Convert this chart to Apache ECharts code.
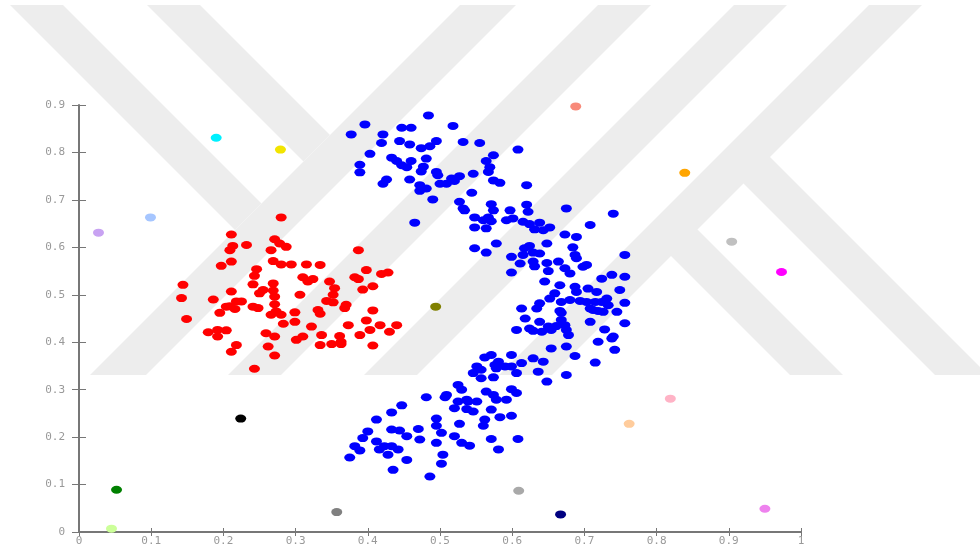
<!DOCTYPE html>
<html>
<head>
<meta charset="utf-8">
<script src="https://cdn.jsdelivr.net/npm/echarts@6/dist/echarts.min.js"></script>
<style>
html,body{margin:0;padding:0;background:#fff;}
#chart{width:980px;height:554px;}
</style>
</head>
<body>
<div id="chart"></div>
<script>
// ---- data ----
const xTicks = [0, 0.1, 0.2, 0.3, 0.4, 0.5, 0.6, 0.7, 0.8, 0.9, 1];
const yTicks = [0, 0.1, 0.2, 0.3, 0.4, 0.5, 0.6, 0.7, 0.8, 0.9];

const redPoints = [
[0.280,0.663],[0.211,0.627],[0.232,0.605],[0.213,0.603],[0.209,0.594],[0.271,0.617],[0.278,0.608],[0.287,0.601],[0.266,0.594],[0.387,0.594],
[0.269,0.571],[0.211,0.570],[0.197,0.561],[0.280,0.564],[0.294,0.564],[0.315,0.564],[0.334,0.563],[0.246,0.554],[0.398,0.552],[0.419,0.544],
[0.428,0.547],[0.243,0.540],[0.310,0.537],[0.324,0.533],[0.317,0.528],[0.382,0.537],[0.387,0.533],[0.269,0.524],[0.241,0.522],[0.347,0.528],
[0.354,0.514],[0.393,0.511],[0.407,0.518],[0.144,0.521],[0.255,0.510],[0.269,0.509],[0.211,0.507],[0.250,0.503],[0.352,0.500],[0.306,0.500],
[0.271,0.496],[0.142,0.493],[0.186,0.490],[0.218,0.486],[0.225,0.486],[0.209,0.476],[0.343,0.487],[0.352,0.484],[0.370,0.479],[0.271,0.480],
[0.241,0.475],[0.248,0.472],[0.204,0.475],[0.216,0.470],[0.368,0.472],[0.195,0.462],[0.273,0.465],[0.299,0.463],[0.331,0.468],[0.334,0.460],
[0.407,0.467],[0.149,0.449],[0.266,0.458],[0.280,0.458],[0.299,0.443],[0.283,0.439],[0.322,0.433],[0.373,0.436],[0.398,0.446],[0.417,0.436],
[0.440,0.436],[0.179,0.421],[0.192,0.426],[0.204,0.425],[0.403,0.426],[0.430,0.422],[0.259,0.419],[0.271,0.412],[0.192,0.412],[0.336,0.415],
[0.389,0.415],[0.361,0.413],[0.310,0.412],[0.301,0.405],[0.363,0.401],[0.218,0.394],[0.262,0.391],[0.334,0.394],[0.350,0.396],[0.363,0.396],
[0.407,0.393],[0.211,0.380],[0.271,0.372],[0.243,0.344]
];

const bluePoints = [
[0.484,0.878],[0.396,0.859],[0.377,0.838],[0.447,0.852],[0.460,0.852],[0.421,0.838],[0.518,0.856],[0.419,0.820],[0.444,0.824],[0.458,0.817],
[0.474,0.809],[0.486,0.813],[0.495,0.824],[0.403,0.797],[0.433,0.789],[0.440,0.782],[0.447,0.773],[0.460,0.782],[0.454,0.769],[0.481,0.787],
[0.477,0.770],[0.389,0.774],[0.389,0.758],[0.426,0.743],[0.421,0.734],[0.458,0.743],[0.474,0.760],[0.495,0.759],[0.497,0.752],[0.472,0.731],
[0.481,0.724],[0.472,0.719],[0.490,0.701],[0.465,0.652],
[0.532,0.822],[0.555,0.820],[0.608,0.806],[0.574,0.794],[0.564,0.782],[0.569,0.769],[0.567,0.759],[0.546,0.755],[0.527,0.750],[0.516,0.745],
[0.500,0.734],[0.509,0.734],[0.520,0.740],[0.574,0.741],[0.583,0.736],[0.544,0.715],[0.620,0.731],[0.527,0.696],[0.532,0.682],[0.534,0.678],
[0.571,0.691],[0.574,0.678],[0.597,0.678],[0.620,0.690],[0.622,0.675],[0.675,0.682],[0.740,0.671],[0.548,0.663],[0.567,0.663],[0.560,0.657],
[0.571,0.655],[0.592,0.657],[0.601,0.661],[0.615,0.654],[0.624,0.649],[0.638,0.652],[0.652,0.642],[0.631,0.638],[0.643,0.636],[0.548,0.642],
[0.564,0.640],[0.708,0.647],[0.673,0.627],[0.689,0.622],[0.578,0.608],[0.548,0.598],[0.648,0.608],[0.624,0.603],[0.617,0.598],[0.684,0.600],
[0.564,0.589],[0.756,0.584],[0.599,0.580],[0.615,0.584],[0.629,0.589],[0.638,0.587],[0.687,0.584],[0.689,0.577],[0.611,0.566],[0.629,0.570],
[0.631,0.560],[0.648,0.567],[0.664,0.570],[0.673,0.556],[0.680,0.545],[0.698,0.559],[0.703,0.563],[0.599,0.547],[0.650,0.550],[0.645,0.528],
[0.666,0.520],[0.687,0.517],[0.689,0.506],[0.705,0.513],[0.717,0.506],[0.724,0.534],[0.738,0.542],[0.756,0.538],[0.749,0.510],[0.659,0.503],
[0.652,0.492],[0.638,0.482],[0.668,0.485],[0.680,0.489],[0.694,0.487],[0.703,0.485],[0.715,0.485],[0.724,0.485],[0.731,0.492],[0.733,0.478],
[0.745,0.464],[0.756,0.483],[0.613,0.471],[0.634,0.471],[0.666,0.466],[0.668,0.462],[0.708,0.471],[0.712,0.468],[0.719,0.466],[0.726,0.464],
[0.618,0.450],[0.638,0.443],[0.650,0.433],[0.661,0.434],[0.668,0.447],[0.673,0.436],[0.675,0.426],[0.678,0.415],[0.654,0.426],[0.641,0.422],
[0.629,0.424],[0.606,0.426],[0.624,0.429],[0.708,0.443],[0.756,0.440],[0.728,0.427],[0.740,0.412],[0.738,0.408],[0.719,0.401],[0.742,0.384],
[0.654,0.387],[0.675,0.391],[0.687,0.371],[0.715,0.357],[0.675,0.331],
[0.571,0.373],[0.562,0.368],[0.599,0.373],[0.629,0.366],[0.643,0.359],[0.581,0.359],[0.576,0.352],[0.590,0.349],[0.613,0.356],[0.599,0.349],
[0.551,0.349],[0.557,0.342],[0.546,0.335],[0.578,0.345],[0.606,0.335],[0.636,0.338],[0.648,0.317],[0.557,0.324],[0.574,0.326],[0.525,0.310],
[0.530,0.300],[0.509,0.289],[0.507,0.284],[0.481,0.284],[0.564,0.296],[0.574,0.289],[0.578,0.279],[0.599,0.301],[0.606,0.293],[0.592,0.279],
[0.537,0.279],[0.525,0.275],[0.539,0.275],[0.551,0.275],[0.520,0.261],[0.537,0.259],[0.546,0.254],[0.571,0.258],[0.583,0.242],[0.599,0.245],
[0.562,0.237],[0.560,0.224],[0.447,0.267],[0.433,0.252],[0.412,0.237],[0.495,0.239],[0.495,0.224],[0.527,0.228],[0.400,0.212],[0.433,0.216],
[0.444,0.214],[0.470,0.217],[0.454,0.202],[0.393,0.198],[0.412,0.191],[0.382,0.181],[0.389,0.172],[0.375,0.157],[0.423,0.181],[0.433,0.181],
[0.442,0.174],[0.416,0.174],[0.428,0.163],[0.472,0.195],[0.495,0.188],[0.502,0.209],[0.520,0.202],[0.530,0.188],[0.541,0.182],[0.571,0.196],
[0.608,0.196],[0.581,0.174],[0.504,0.163],[0.502,0.144],[0.454,0.152],[0.435,0.131],[0.486,0.117]
];

const noisePoints = [
[0.027,0.631],[0.099,0.663],[0.190,0.831],[0.279,0.806],[0.688,0.897],[0.839,0.757],[0.904,0.612],[0.973,0.548],[0.494,0.475],
[0.224,0.239],[0.819,0.281],[0.762,0.228],[0.052,0.089],[0.045,0.007],[0.357,0.042],[0.609,0.087],[0.667,0.037],[0.950,0.049]
];

// ---- styles ----
const noiseColors = ['#c8a2f2','#a6c6ff','#00f0ff','#f2e400','#f88a7a','#ffa500','#c0c0c0','#ff00ff','#808000',
  '#000000','#ffb3c6','#ffcc9c','#008000','#ccff99','#808080','#a9a9a9','#000080','#ee82ee'];

const wm = [
  [[10,5],[63,5],[261.5,203.5],[235,230]],
  [[147,5],[200,5],[330,135],[303.5,161.5]],
  [[460,5],[516,5],[146,375],[90,375]],
  [[598,5],[651,5],[281,375],[228,375]],
  [[734,5],[787,5],[417,375],[364,375]],
  [[869,5],[922,5],[552,375],[499,375]],
  [[670.5,255.5],[697,229],[843,375],[790,375]],
  [[743,183],[769.5,156.5],[988,375],[935,375]]
];

const chart = echarts.init(document.getElementById('chart'), null, {renderer:'canvas'});
const axisCol = '#777';
const labelStyle = {color:'#999', fontSize:11, fontFamily:'DejaVu Sans Mono'};

function xAx(main){
  return {
    type:'value', min:xTicks[0], max:xTicks[xTicks.length-1], interval:0.1, position:'bottom',
    splitLine:{show:false},
    axisLine:{show:main, onZero:false, lineStyle:{color:axisCol, width:2}},
    axisTick:{show:true, inside:!main, length:4, lineStyle:{color:axisCol, width:1}},
    axisLabel:Object.assign({show:main, margin:4}, labelStyle)
  };
}
function yAx(main){
  return {
    type:'value', min:yTicks[0], max:yTicks[yTicks.length-1], interval:0.1, position:'left',
    splitLine:{show:false},
    axisLine:{show:main, onZero:false, lineStyle:{color:axisCol, width:2}},
    axisTick:{show:true, inside:!main, length:7, lineStyle:{color:axisCol, width:1}},
    axisLabel:Object.assign({show:main, margin:14}, labelStyle)
  };
}

chart.setOption({
  animation:false,
  backgroundColor:'#fff',
  grid:{left:79, right:179, top:105, bottom:22},
  graphic: wm.map(p => ({type:'polygon', z:-10, silent:true, shape:{points:p}, style:{fill:'#ededed'}})),
  xAxis:[xAx(true), xAx(false)],
  yAxis:[yAx(true), yAx(false)],
  series:[
    {type:'scatter', name:'cluster 1', data:redPoints, symbol:'circle', symbolSize:[11,8], itemStyle:{color:'#ff0000', opacity:1}},
    {type:'scatter', name:'cluster 2', data:bluePoints, symbol:'circle', symbolSize:[11,8], itemStyle:{color:'#0000ff', opacity:1}},
    {type:'scatter', name:'noise', data:noisePoints.map((p,i)=>({value:p, itemStyle:{color:noiseColors[i]}})), symbol:'circle', symbolSize:[11,8], itemStyle:{opacity:1}}
  ]
});
</script>
</body>
</html>
